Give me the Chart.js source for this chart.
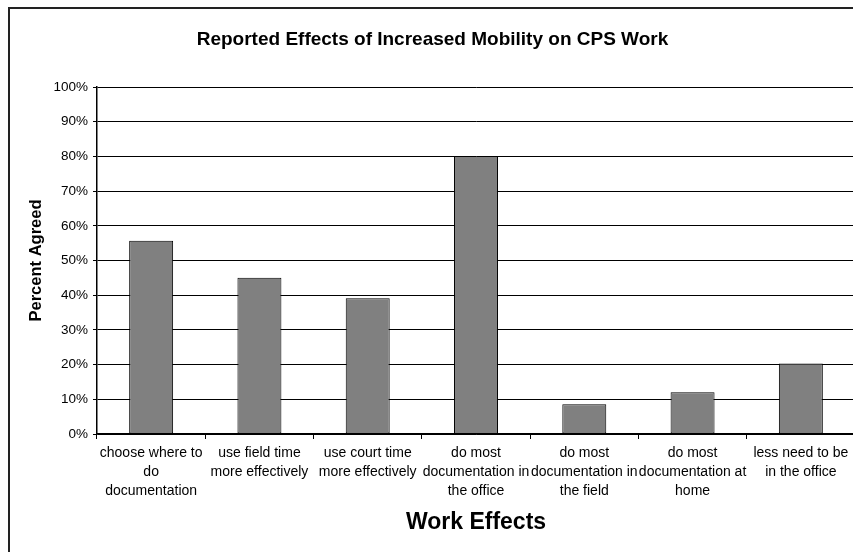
<!DOCTYPE html>
<html>
<head>
<meta charset="utf-8">
<script src="https://cdn.jsdelivr.net/npm/chart.js@4/dist/chart.umd.min.js"></script>
<style>
  html, body { margin: 0; padding: 0; background: #fff; overflow: hidden; }
  #wrap { position: absolute; left: 0; top: 0; width: 860px; height: 552px; }
</style>
</head>
<body>
<div id="wrap"><canvas id="c" width="860" height="552"></canvas></div>
<script>
// Survey categories (multi-line tick labels)
const categories = [
  ["choose where to", "do", "documentation"],
  ["use field time", "more effectively"],
  ["use court time", "more effectively"],
  ["do most", "documentation in", "the office"],
  ["do most", "documentation in", "the field"],
  ["do most", "documentation at", "home"],
  ["less need to be", "in the office"]
];

// Percent of respondents who agreed
const percentAgreed = [55.7, 45.0, 39.1, 80.0, 8.6, 12.0, 20.3];

// Y axis range and step (percent)
const yMin = 0;
const yMax = 100;
const yStep = 10;

const chartTitle = "Reported Effects of Increased Mobility on CPS Work";
const xTitle = "Work Effects";
const yTitle = "Percent Agreed";

const FONT = "'Liberation Sans', Arial, Helvetica, sans-serif";

// Frame lines along the left and top of the chart
const framePlugin = {
  id: 'frame',
  afterDraw(chart) {
    const ctx = chart.ctx;
    ctx.save();
    ctx.strokeStyle = '#222';
    ctx.lineWidth = 2;
    ctx.beginPath();
    ctx.moveTo(9, 560);
    ctx.lineTo(9, 8);
    ctx.lineTo(870, 8);
    ctx.stroke();
    ctx.restore();
  }
};

new Chart(document.getElementById('c'), {
  type: 'bar',
  data: {
    labels: categories,
    datasets: [{
      data: percentAgreed,
      backgroundColor: '#808080',
      borderColor: '#000',
      borderWidth: 1,
      borderSkipped: false,
      categoryPercentage: 1.0,
      barPercentage: 0.406
    }]
  },
  plugins: [framePlugin],
  options: {
    responsive: false,
    animation: false,
    devicePixelRatio: 1,
    layout: { padding: { left: 10, right: 5, top: 0, bottom: 0 } },
    plugins: {
      legend: { display: false },
      tooltip: { enabled: false },
      title: {
        display: true,
        text: chartTitle,
        color: '#000',
        font: { family: FONT, size: 19, weight: 'bold', lineHeight: 1.2 },
        padding: { top: 28.6, bottom: 35.6 }
      }
    },
    scales: {
      x: {
        offset: true,
        afterFit(scale) { scale.height = 118; },
        grid: {
          offset: true,
          drawOnChartArea: false,
          drawTicks: true,
          tickLength: 5,
          color: '#000'
        },
        border: { color: '#000', width: 1.5 },
        ticks: {
          color: '#000',
          autoSkip: false,
          maxRotation: 0,
          minRotation: 0,
          padding: 5,
          font: { family: FONT, size: 14, lineHeight: '19px' }
        },
        title: {
          display: true,
          text: xTitle,
          color: '#000',
          font: { family: FONT, size: 23, weight: 'bold', lineHeight: 1.2 },
          padding: { top: 0, bottom: 16 }
        }
      },
      y: {
        min: yMin,
        max: yMax,
        afterFit(scale) { scale.width = 87; },
        grid: {
          color: '#000',
          lineWidth: 1,
          drawTicks: true,
          tickLength: 4
        },
        border: { color: '#000', width: 1.5 },
        ticks: {
          stepSize: yStep,
          color: '#000',
          padding: 5,
          font: { family: FONT, size: 13.5 },
          callback: (v) => v + '%'
        },
        title: {
          display: true,
          text: yTitle,
          color: '#000',
          font: { family: FONT, size: 16.5, weight: 'bold', lineHeight: 1.2 },
          padding: { top: 16.4, bottom: 0 }
        }
      }
    }
  }
});
</script>
</body>
</html>
